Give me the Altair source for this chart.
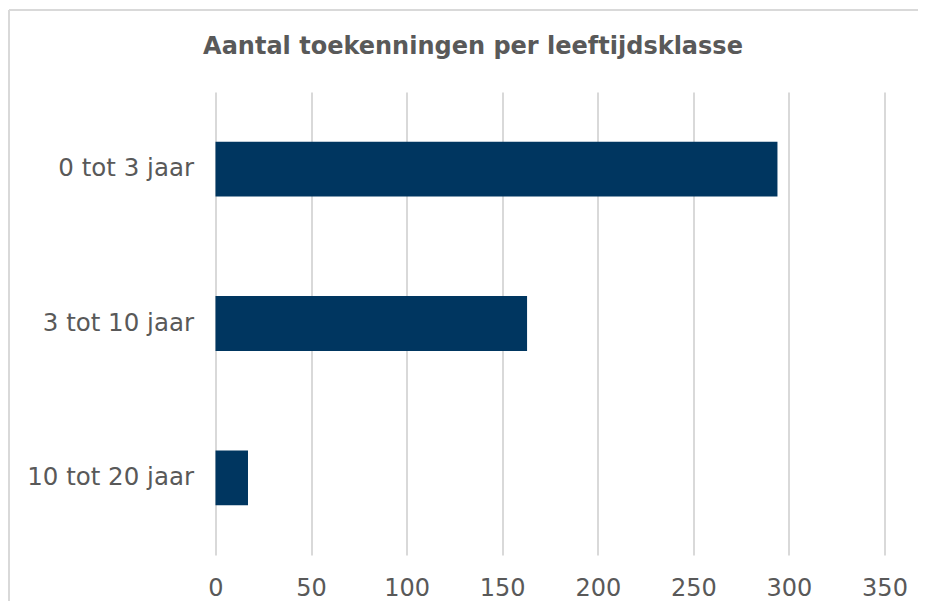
import altair as alt
import pandas as pd

categories = ["0 tot 3 jaar", "3 tot 10 jaar", "10 tot 20 jaar"]
values = [294, 163, 17]
x_ticks = [0, 50, 100, 150, 200, 250, 300, 350]

df = pd.DataFrame({"klasse": categories, "aantal": values})

FONT = "DejaVu Sans"
GREY = "#595959"
BORDER = "#d9d9d9"

bars = alt.Chart(df).mark_bar(color="#003660").encode(
    x=alt.X(
        "aantal:Q",
        scale=alt.Scale(domain=[0, 350], nice=False),
        axis=alt.Axis(
            values=x_ticks,
            title=None,
            grid=True,
            gridColor=BORDER,
            gridWidth=2,
            domain=False,
            ticks=False,
            labelFlush=False,
            labelFont=FONT,
            labelFontSize=24,
            labelColor=GREY,
            labelPadding=21,
        ),
    ),
    y=alt.Y(
        "klasse:N",
        sort=categories,
        scale=alt.Scale(paddingInner=0.645, paddingOuter=0.3225),
        axis=alt.Axis(
            title=None,
            domain=False,
            ticks=False,
            grid=False,
            labelFont=FONT,
            labelFontSize=24.5,
            labelColor=GREY,
            labelPadding=22,
        ),
    ),
)

frame_df = pd.DataFrame({"k": [0]})
left_border = alt.Chart(frame_df).mark_rule(color=BORDER, strokeWidth=2).encode(
    x=alt.value(-206.5), y=alt.value(-82), y2=alt.value(700)
)
top_border = alt.Chart(frame_df).mark_rule(color=BORDER, strokeWidth=2).encode(
    x=alt.value(-206.5), x2=alt.value(900), y=alt.value(-82)
)

chart = alt.layer(bars, left_border, top_border).properties(
    width=669,
    height=463,
    background="white",
    autosize=alt.AutoSizeParams(type="none"),
    padding={"left": 207.5, "top": 84, "right": 33.5, "bottom": 46},
    title=alt.TitleParams(
        "Aantal toekenningen per leeftijdsklasse",
        font=FONT,
        fontSize=24,
        fontWeight="bold",
        color=GREY,
        anchor="middle",
        frame="group",
        baseline="alphabetic",
        offset=-69,
        dx=-77,
    ),
).configure_view(stroke=None)

chart.save("out.html", embed_options={"renderer": "svg", "actions": False})
